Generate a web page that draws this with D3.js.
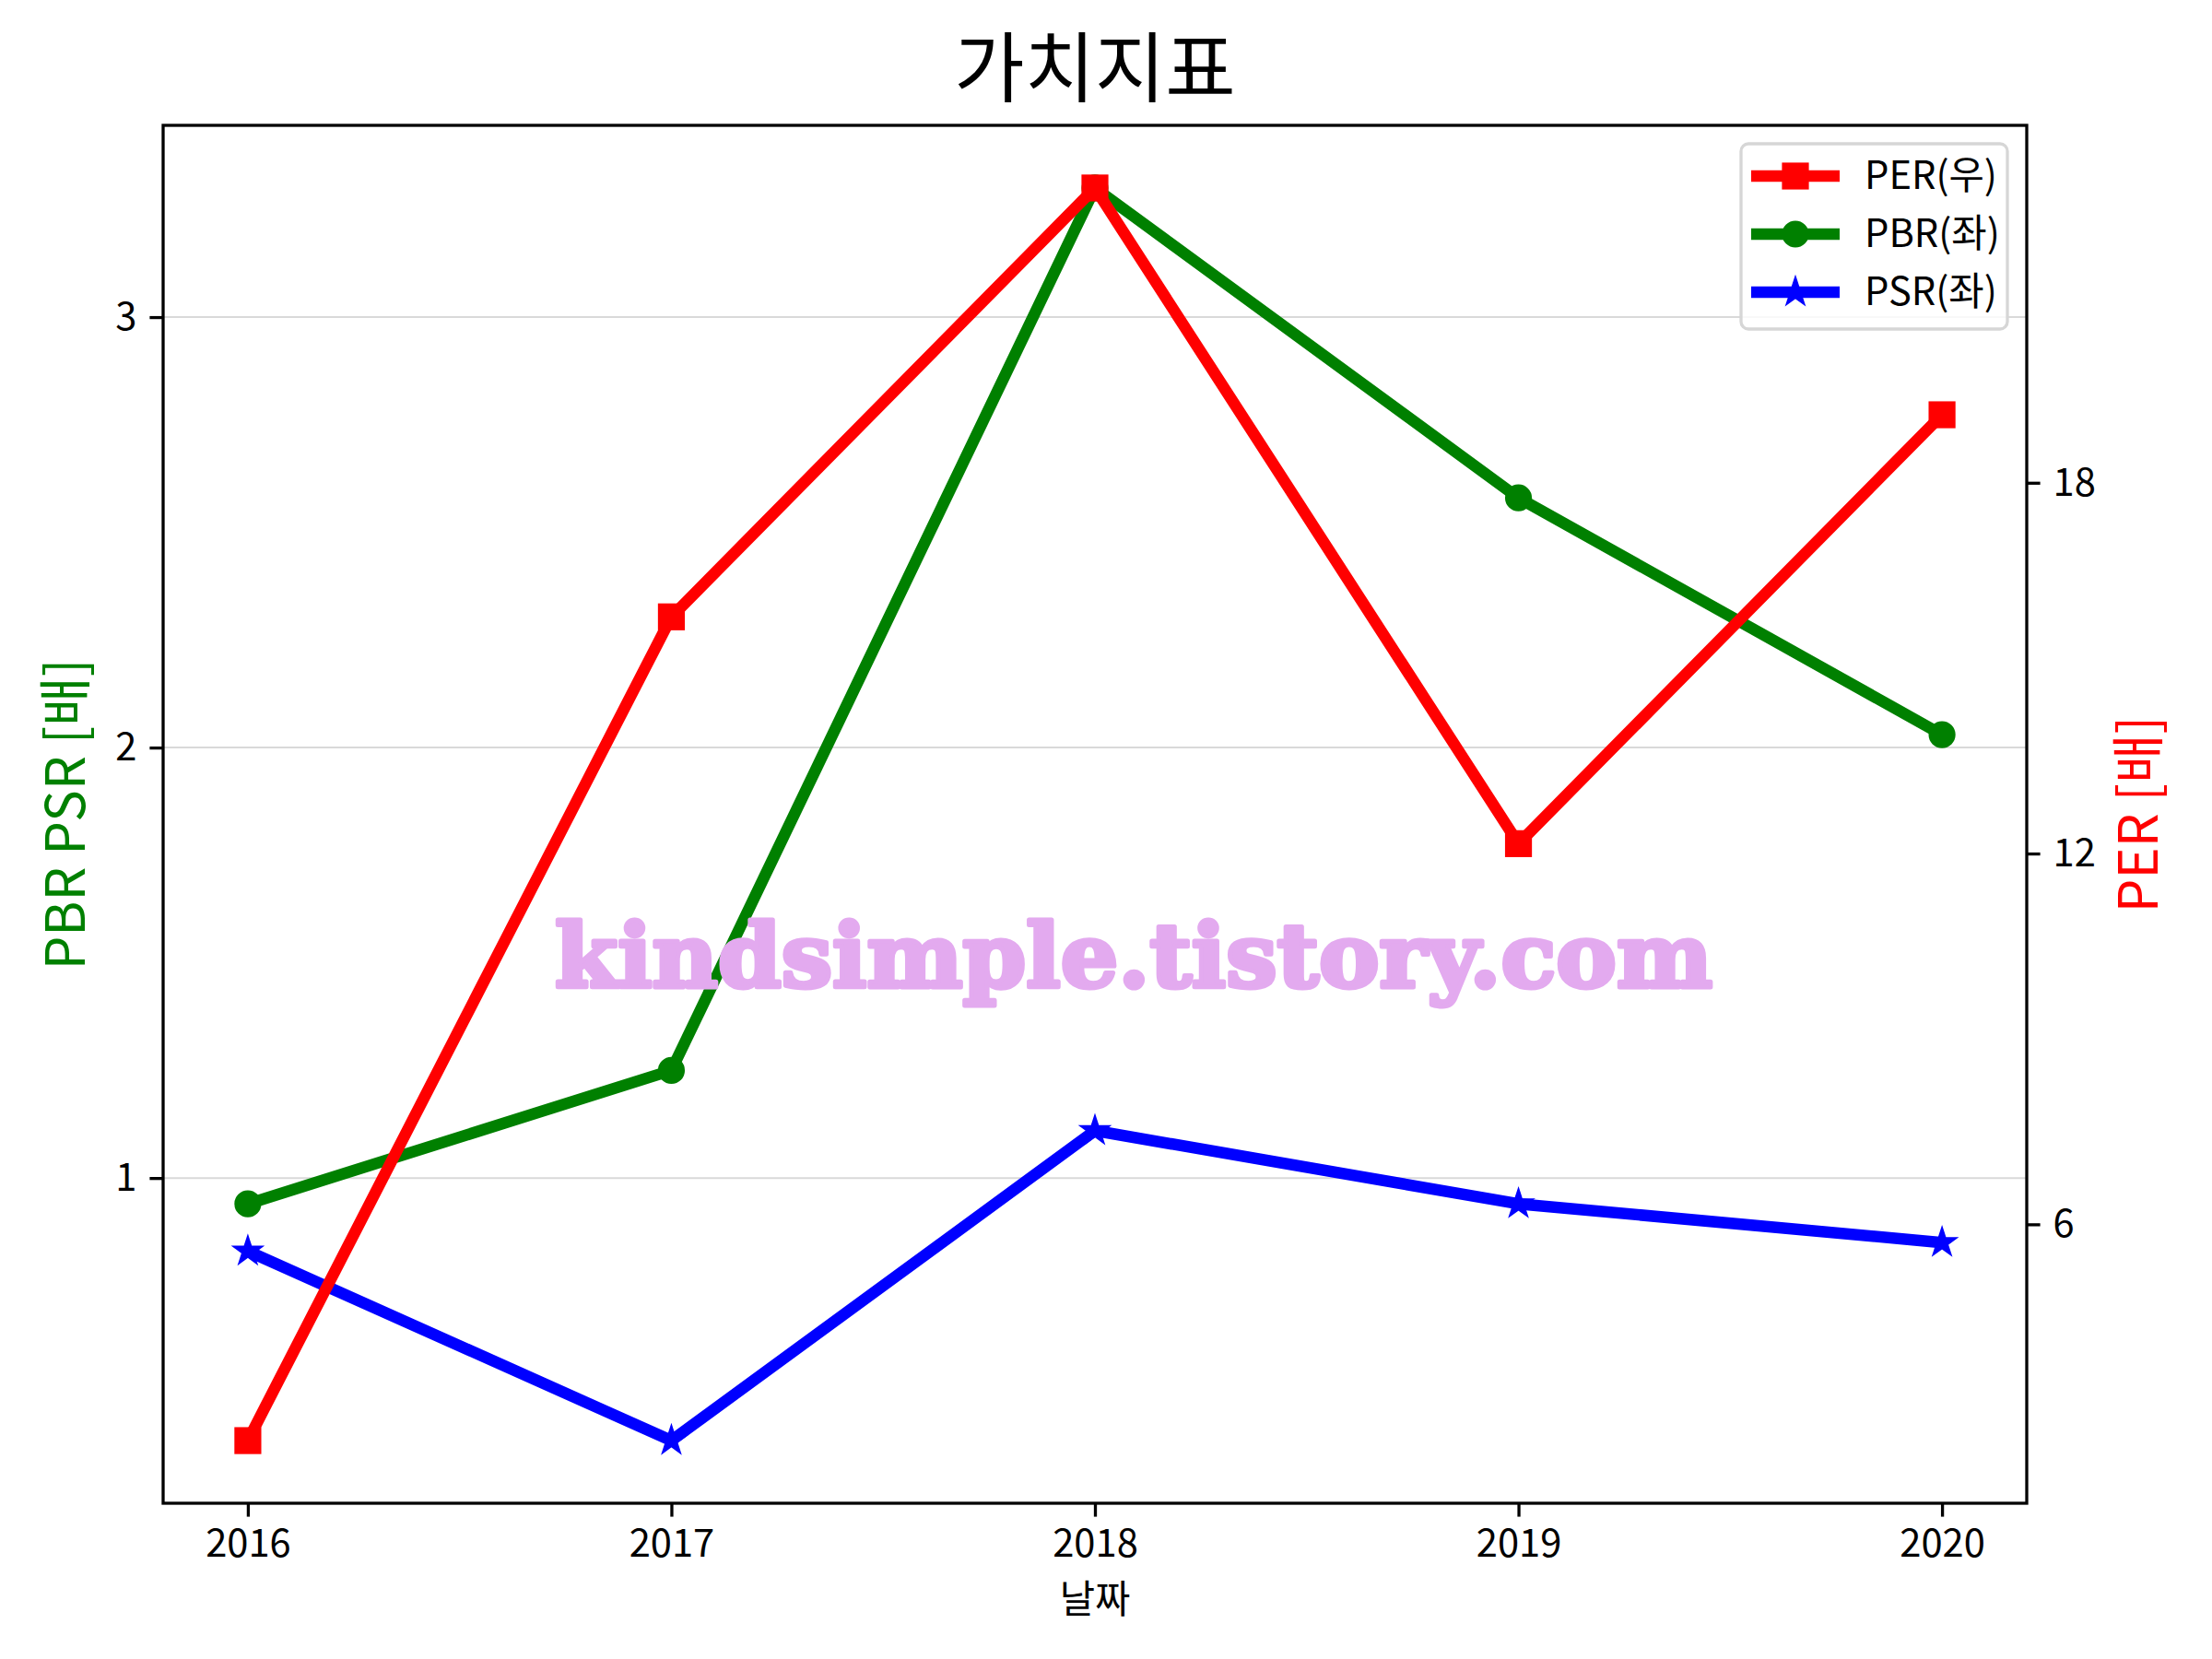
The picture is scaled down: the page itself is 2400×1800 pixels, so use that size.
<!DOCTYPE html>
<html>
<head>
<meta charset="utf-8">
<script src="https://cdn.jsdelivr.net/npm/d3@7"></script>
<style>
  html, body { margin: 0; padding: 0; background: #fff; }
  svg { display: block; }
</style>
</head>
<body>
<script>
// ---- data ----
const years = ["2016", "2017", "2018", "2019", "2020"];
const perValues = [2.5, 15.83, 22.77, 12.16, 19.1];
const pbrValues = [0.94, 1.25, 3.30, 2.58, 2.03];
const psrValues = [0.83, 0.39, 1.11, 0.94, 0.85];
const leftTicks = [1, 2, 3];
const rightTicks = [6, 12, 18];
const seriesNames = ["PER(우)", "PBR(좌)", "PSR(좌)"];
const titleText = "가치지표";
const xLabel = "날짜";
const leftLabel = "PBR PSR [배]";
const rightLabel = "PER [배]";
const watermark = "kindsimple.tistory.com";

// ---- layout ----
const W = 2400, H = 1800;
const m = { left: 177, right: 2199, top: 136, bottom: 1631 };
const FONT = "'Noto Sans CJK KR', 'Noto Sans', sans-serif";

const svg = d3.select("body").append("svg").attr("width", W).attr("height", H);

const xNum = years.map(Number);
const x = d3.scaleLinear()
  .domain([d3.min(xNum) - 0.2, d3.max(xNum) + 0.2])
  .range([m.left, m.right]);

function padded(vals) {
  const lo = d3.min(vals), hi = d3.max(vals), r = hi - lo;
  return [lo - 0.05 * r, hi + 0.05 * r];
}
const yL = d3.scaleLinear().domain(padded(pbrValues.concat(psrValues))).range([m.bottom, m.top]);
const yR = d3.scaleLinear().domain(padded(perValues)).range([m.bottom, m.top]);

// grid (left axis)
svg.append("g").selectAll("line").data(leftTicks).join("line")
  .attr("x1", m.left).attr("x2", m.right)
  .attr("y1", d => yL(d)).attr("y2", d => yL(d))
  .attr("stroke", "#d9d9d9").attr("stroke-width", 2);

// lines
const LW = 12.5;
function drawLine(vals, scale, color) {
  const line = d3.line().x((d, i) => x(xNum[i])).y(d => scale(d));
  svg.append("path").datum(vals).attr("d", line)
    .attr("fill", "none").attr("stroke", color).attr("stroke-width", LW)
    .attr("stroke-linejoin", "round").attr("stroke-linecap", "butt");
}
function starPath(r) {
  const ri = r * 0.381966;
  let p = [];
  for (let k = 0; k < 10; k++) {
    const a = -Math.PI / 2 + k * Math.PI / 5;
    const rr = k % 2 === 0 ? r : ri;
    p.push([rr * Math.cos(a), rr * Math.sin(a)]);
  }
  return "M" + p.map(q => q.join(",")).join("L") + "Z";
}
function marker(g, type, color, cx, cy) {
  if (type === "square") {
    g.append("rect").attr("x", cx - 12.5).attr("y", cy - 12.5).attr("width", 25).attr("height", 25)
      .attr("fill", color).attr("stroke", color).attr("stroke-width", 4.2);
  } else if (type === "circle") {
    g.append("circle").attr("cx", cx).attr("cy", cy).attr("r", 12.5)
      .attr("fill", color).attr("stroke", color).attr("stroke-width", 4.2);
  } else {
    g.append("path").attr("d", starPath(12.5)).attr("transform", `translate(${cx},${cy})`)
      .attr("fill", color).attr("stroke", color).attr("stroke-width", 4.2).attr("stroke-linejoin", "miter");
  }
}
function drawMarkers(vals, scale, color, type) {
  const g = svg.append("g");
  vals.forEach((v, i) => marker(g, type, color, x(xNum[i]), scale(v)));
}

drawLine(pbrValues, yL, "#008000");
drawMarkers(pbrValues, yL, "#008000", "circle");
drawLine(psrValues, yL, "#0000ff");
drawMarkers(psrValues, yL, "#0000ff", "star");
drawLine(perValues, yR, "#ff0000");
drawMarkers(perValues, yR, "#ff0000", "square");

// watermark
svg.append("text").attr("x", 602).attr("y", 1071)
  .attr("textLength", 1256).attr("lengthAdjust", "spacingAndGlyphs")
  .attr("font-family", "'DejaVu Serif', serif").attr("font-weight", "bold")
  .attr("font-size", 96).attr("fill", "#e3aaef")
  .attr("stroke", "#e3aaef").attr("stroke-width", 5).attr("stroke-linejoin", "round")
  .text(watermark);

// spines
svg.append("rect").attr("x", m.left).attr("y", m.top)
  .attr("width", m.right - m.left).attr("height", m.bottom - m.top)
  .attr("fill", "none").attr("stroke", "#000").attr("stroke-width", 3.3);

// axes
const xAxis = d3.axisBottom(x).tickValues(xNum).tickFormat(d3.format("d")).tickSize(14.6).tickPadding(14);
const gx = svg.append("g").attr("transform", `translate(0,${m.bottom})`).call(xAxis);
const yAxisL = d3.axisLeft(yL).tickValues(leftTicks).tickFormat(d3.format("d")).tickSize(14.6).tickPadding(14);
const gl = svg.append("g").attr("transform", `translate(${m.left},0)`).call(yAxisL);
const yAxisR = d3.axisRight(yR).tickValues(rightTicks).tickFormat(d3.format("d")).tickSize(14.6).tickPadding(14);
const gr = svg.append("g").attr("transform", `translate(${m.right},0)`).call(yAxisR);
[gx, gl, gr].forEach(g => {
  g.select(".domain").remove();
  g.selectAll(".tick line").attr("stroke", "#000").attr("stroke-width", 3.3);
  g.selectAll(".tick text").attr("font-family", FONT).attr("font-size", 41.7).attr("fill", "#000");
});

// title and labels
svg.append("text").attr("x", (m.left + m.right) / 2).attr("y", 104)
  .attr("text-anchor", "middle").attr("font-family", FONT).attr("font-size", 83)
  .attr("fill", "#000").text(titleText);
svg.append("text").attr("x", (m.left + m.right) / 2).attr("y", 1750)
  .attr("text-anchor", "middle").attr("font-family", FONT).attr("font-size", 41.7)
  .attr("fill", "#000").text(xLabel);
svg.append("text").attr("transform", `translate(92,${(m.top + m.bottom) / 2}) rotate(-90)`)
  .attr("text-anchor", "middle").attr("font-family", FONT).attr("font-size", 58)
  .attr("fill", "#008000").text(leftLabel);
svg.append("text").attr("transform", `translate(2341,${(m.top + m.bottom) / 2}) rotate(-90)`)
  .attr("text-anchor", "middle").attr("font-family", FONT).attr("font-size", 58)
  .attr("fill", "#ff0000").text(rightLabel);

// legend
const leg = svg.append("g");
leg.append("rect").attr("x", 1889).attr("y", 156).attr("width", 289).attr("height", 201)
  .attr("rx", 8).attr("fill", "#fff").attr("fill-opacity", 0.8)
  .attr("stroke", "#d6d6d6").attr("stroke-width", 3.3);
const legColors = ["#ff0000", "#008000", "#0000ff"];
const legTypes = ["square", "circle", "star"];
seriesNames.forEach((name, i) => {
  const cy = 191 + i * 63;
  leg.append("line").attr("x1", 1900).attr("x2", 1996).attr("y1", cy).attr("y2", cy)
    .attr("stroke", legColors[i]).attr("stroke-width", LW);
  marker(leg, legTypes[i], legColors[i], 1948, cy);
  leg.append("text").attr("x", 2023).attr("y", cy + 14)
    .attr("font-family", FONT).attr("font-size", 41.7).attr("fill", "#000").text(name);
});
</script>
</body>
</html>
